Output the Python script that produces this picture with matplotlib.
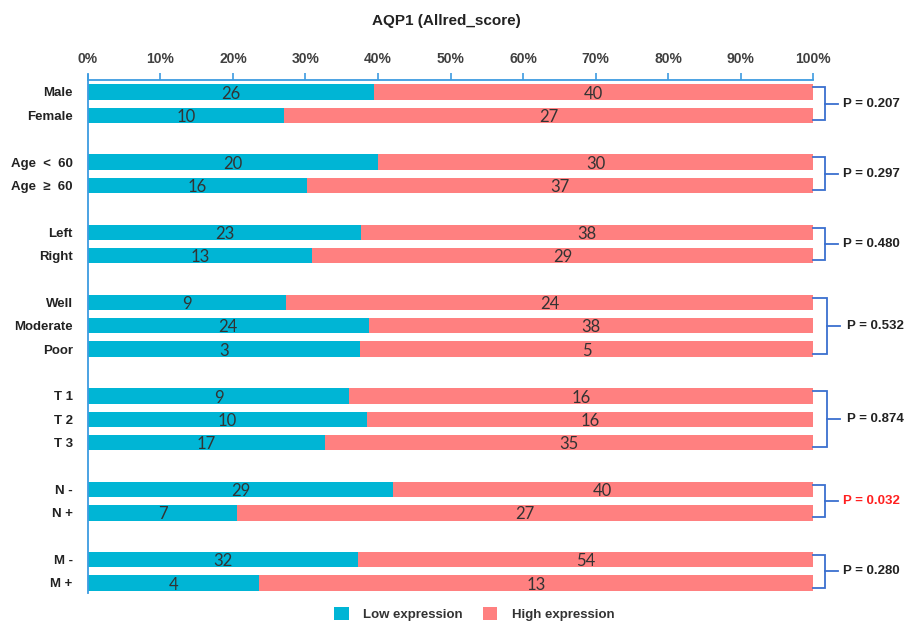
import matplotlib.pyplot as plt
from matplotlib.patches import Patch

# AQP1 Allred score: low / high expression counts per clinical group
categories = ["Male", "Female", "Age  <  60", "Age  ≥  60", "Left", "Right",
              "Well", "Moderate", "Poor", "T 1", "T 2", "T 3",
              "N -", "N +", "M -", "M +"]
low = [26, 10, 20, 16, 23, 13, 9, 24, 3, 9, 10, 17, 29, 7, 32, 4]
high = [40, 27, 30, 37, 38, 29, 24, 38, 5, 16, 16, 35, 40, 27, 54, 13]

# row slots (empty slot between groups)
slots = [0, 1, 3, 4, 6, 7, 9, 10, 11, 13, 14, 15, 17, 18, 20, 21]

# p-values per group: text, first slot, last slot, significant
p_values = ["0.207", "0.297", "0.480", "0.532", "0.874", "0.032", "0.280"]
p_first = [0, 3, 6, 9, 13, 17, 20]
p_last = [1, 4, 7, 11, 15, 18, 21]
p_signif = [False, False, False, False, False, True, False]

c_low = "#00b5d5"
c_high = "#ff8080"
c_axis = "#3d9be0"
c_brack = "#3a6fcf"
bold_font = ["Liberation Sans", "DejaVu Sans"]

fig = plt.figure(figsize=(9.07, 6.28), dpi=100)
ax = fig.add_axes([0.097, 0.0557, 0.7994, 0.8169])

low_pct = [100 * l / (l + h) for l, h in zip(low, high)]
high_pct = [100 - p for p in low_pct]

ax.barh(slots, low_pct, height=0.66, color=c_low, edgecolor="none")
ax.barh(slots, high_pct, left=low_pct, height=0.66, color=c_high, edgecolor="none")

for s, lp, hp, l, h in zip(slots, low_pct, high_pct, low, high):
    ax.text(lp / 2, s + 0.07, str(l), ha="center", va="center",
            fontsize=12, family="Lato", color="#333333")
    ax.text(lp + hp / 2, s + 0.07, str(h), ha="center", va="center",
            fontsize=12, family="Lato", color="#333333")

ax.set_xlim(0, 100)
ax.set_ylim(21.43, -0.51)
ax.set_yticks(slots)
ax.set_yticklabels(categories, fontsize=9.5, fontweight="bold", family=bold_font,
                   color="#222222")
ax.tick_params(axis="y", length=0, pad=11)

ax.xaxis.tick_top()
ax.set_xticks(range(0, 101, 10))
ax.set_xticklabels([f"{v}%" for v in range(0, 101, 10)], fontsize=10,
                   fontweight="bold", family=bold_font, color="#404040")
ax.tick_params(axis="x", direction="out", length=5, width=1.2, color=c_axis, pad=5)

for side in ["right", "bottom"]:
    ax.spines[side].set_visible(False)
for side in ["top", "left"]:
    ax.spines[side].set_color(c_axis)
    ax.spines[side].set_linewidth(1.3)
ax.plot([0, 0], [-0.51, -0.73], color=c_axis, lw=1.3, clip_on=False)

# brackets with p-values on the right
for txt, a, b, sig in zip(p_values, p_first, p_last, p_signif):
    three = (b - a) == 2
    bx = 101.9 if three else 101.6
    sx = 103.7 if three else 103.4
    tx = 104.7 if three else 104.1
    y0, y1 = a - 0.2, b + 0.2
    ym = (a + b) / 2
    ax.plot([100, bx, bx, 100], [y0, y0, y1, y1], color=c_brack, lw=1.3,
            clip_on=False, solid_joinstyle="miter")
    ax.plot([bx, sx], [ym, ym], color=c_brack, lw=1.3, clip_on=False)
    ax.text(tx, ym, f"P = {txt}", ha="left", va="center", fontsize=9.5,
            fontweight="bold", family=bold_font,
            color="#ff2020" if sig else "#222222")

fig.text(0.492, 0.966, "AQP1 (Allred_score)", ha="center", va="center",
         fontsize=11, fontweight="bold", family=bold_font, color="#222222")

handles = [Patch(facecolor=c_low, label="Low expression"),
           Patch(facecolor=c_high, label="High expression")]
fig.legend(handles=handles, loc="center", bbox_to_anchor=(0.523, 0.022), ncol=2,
           frameon=False, prop={"family": bold_font, "weight": "bold", "size": 9.5},
           handlelength=1.1, handleheight=1.1, handletextpad=1.1, columnspacing=1.5,
           labelcolor="#333333")

fig.savefig("out.png", dpi=100)
